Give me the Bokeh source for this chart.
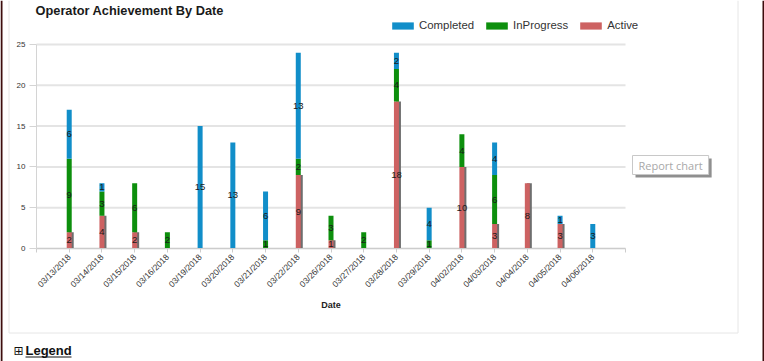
from math import pi
from bokeh.plotting import figure
from bokeh.models import (Range1d, ColumnDataSource, Legend, LegendItem, Label,
                          FixedTicker, LinearAxis)
from bokeh.core.properties import value
from bokeh.embed import file_html
from bokeh.resources import INLINE

dates = ["03/13/2018", "03/14/2018", "03/15/2018", "03/16/2018", "03/19/2018",
         "03/20/2018", "03/21/2018", "03/22/2018", "03/26/2018", "03/27/2018",
         "03/28/2018", "03/29/2018", "04/02/2018", "04/03/2018", "04/04/2018",
         "04/05/2018", "04/06/2018"]
active = [2, 4, 2, 0, 0, 0, 0, 9, 1, 0, 18, 0, 10, 3, 8, 3, 0]
inprogress = [9, 3, 6, 2, 0, 0, 1, 2, 3, 2, 4, 1, 4, 6, 0, 0, 0]
completed = [6, 1, 0, 0, 15, 13, 6, 13, 0, 0, 2, 4, 0, 4, 0, 1, 3]
series = ["Active", "InProgress", "Completed"]
y_ticks = [0, 5, 10, 15, 20, 25]

BLUE = "#118ec9"
GREEN = "#0d8f0d"
RED = "#cd6262"
SHADOW = "#6e6e6e"
FONT = "Liberation Sans"

# ---- layout geometry (pixels) ----
W, H = 764, 361
X0, Y0 = 36, 248            # page position of data origin
PX_X = 589 / 18             # pixels per category slot
PX_Y = 204 / 25             # pixels per unit


def dx(px):
    return (px - X0) / PX_X


def dy(py):
    return (Y0 - py) / PX_Y


n = len(dates)
xpos = list(range(1, n + 1))
source = ColumnDataSource(dict(x=xpos, Active=active, InProgress=inprogress,
                               Completed=completed))

p = figure(x_range=Range1d(dx(0), dx(W)), y_range=Range1d(dy(H), dy(0)),
           width=W, height=H, min_border=0,
           x_axis_type=None, y_axis_type=None,
           output_backend="svg", toolbar_location=None)
p.outline_line_color = None
p.background_fill_color = "white"
p.border_fill_color = "white"
p.xgrid.visible = False
p.ygrid.visible = False

# page / panel decorations
p.segment(x0=[dx(1), dx(763)], x1=[dx(1), dx(763)], y0=[dy(0)] * 2, y1=[dy(H)] * 2,
          line_color="#3d0d0d", line_width=2)
p.segment(x0=[dx(8.5), dx(8.5), dx(737.5)], x1=[dx(8.5), dx(737.5), dx(737.5)],
          y0=[dy(0), dy(332.5), dy(0)], y1=[dy(332.5), dy(332.5), dy(332.5)],
          line_color="#e6e6e6", line_width=1)

# horizontal grid lines
p.segment(x0=[0] * len(y_ticks), x1=[n + 1] * len(y_ticks), y0=y_ticks, y1=y_ticks,
          line_color="#e4e4e4", line_width=2)

# axes drawn at fixed data locations
yaxis = LinearAxis(fixed_location=0, bounds=(0, y_ticks[-1]),
                   ticker=FixedTicker(ticks=y_ticks))
yaxis.axis_line_color = "#d4d4d4"
yaxis.major_tick_out = 7
yaxis.major_tick_in = 0
yaxis.major_tick_line_color = "#d4d4d4"
yaxis.minor_tick_line_color = None
yaxis.major_label_text_font = FONT
yaxis.major_label_text_font_size = "8px"
yaxis.major_label_text_color = "#333333"
yaxis.major_label_standoff = 4
p.add_layout(yaxis, "left")

xaxis = LinearAxis(fixed_location=0, bounds=(0, n + 1),
                   ticker=FixedTicker(ticks=list(range(0, n + 2))))
overrides = {i + 1: d for i, d in enumerate(dates)}
overrides[0] = ""
overrides[n + 1] = ""
xaxis.major_label_overrides = overrides
xaxis.axis_line_color = "#cccccc"
xaxis.major_tick_out = 4
xaxis.major_tick_in = 0
xaxis.major_tick_line_color = "#cccccc"
xaxis.minor_tick_line_color = None
xaxis.major_label_orientation = pi / 4
xaxis.major_label_text_font = FONT
xaxis.major_label_text_font_size = "8.5px"
xaxis.major_label_text_color = "#333333"
xaxis.major_label_standoff = 3
p.add_layout(xaxis, "below")

# bars
bw = 5 / PX_X
shadow_x = [x + 2 / PX_X for x in xpos]
p.vbar(x=shadow_x, top=active, bottom=0, width=bw, fill_color=SHADOW, line_color=None)
rs = p.vbar_stack(series, x="x", width=bw, fill_color=[RED, GREEN, BLUE],
                  line_color=None, source=source)

# value labels centred in each segment
lab_x, lab_y, lab_t = [], [], []
for i, xx in enumerate(xpos):
    base = 0
    for vals in (active, inprogress, completed):
        v = vals[i]
        if v > 0:
            lab_x.append(xx)
            lab_y.append(base + v / 2)
            lab_t.append(str(v))
        base += v
p.text(x=lab_x, y=lab_y, text=lab_t, text_align="center", text_baseline="middle",
       text_font=value(FONT), text_font_size="9.5px", text_color="#1a1a1a")

# axis title
p.add_layout(Label(x=(n + 1) / 2, y=dy(304), text="Date", text_font=FONT,
                   text_font_size="9px", text_font_style="bold", text_color="#222222",
                   text_align="center", text_baseline="middle"))

# chart title
p.add_layout(Label(x=dx(35), y=dy(2), text="Operator Achievement By Date",
                   text_font=FONT, text_font_size="12.8px", text_font_style="bold",
                   text_color="#1a1a1a", text_baseline="top"))

# legend
legend = Legend(items=[LegendItem(label="Completed", renderers=[rs[2]]),
                       LegendItem(label="InProgress", renderers=[rs[1]]),
                       LegendItem(label="Active", renderers=[rs[0]])],
                location=(389, H - 31), orientation="horizontal",
                glyph_width=27, glyph_height=9, label_standoff=3, spacing=9,
                label_text_font=FONT, label_text_font_size="11.4px",
                label_text_color="#333333", border_line_color=None,
                background_fill_alpha=0, padding=0, margin=0)
p.add_layout(legend, "center")

# "Report chart" box with shadow
p.add_layout(Label(x=dx(635), y=dy(158), text="Report chart", text_font="Open Sans",
                   text_font_size="11px", text_color="#8f8f8f",
                   background_fill_color="#8f8f8f", text_baseline="top", padding=(6, 2)))
p.add_layout(Label(x=dx(632), y=dy(155), text="Report chart", text_font="Open Sans",
                   text_font_size="11px", text_color="#a8a8a8",
                   background_fill_color="white", border_line_color="#c8c8c8",
                   text_baseline="top", padding=(6, 2)))

# bottom "Legend" link
p.add_layout(Label(x=dx(13), y=dy(343), text="\u229e", text_font="DejaVu Sans",
                   text_font_size="12px", text_color="#111111", text_baseline="top"))
p.add_layout(Label(x=dx(25), y=dy(342), text="Legend", text_font=FONT,
                   text_font_size="13px", text_font_style="bold",
                   text_color="#111111", text_baseline="top"))
p.segment(x0=[dx(25)], x1=[dx(71)], y0=[dy(356.5)], y1=[dy(356.5)],
          line_color="#111111", line_width=1)

open("out.html", "w").write(file_html(p, INLINE))
